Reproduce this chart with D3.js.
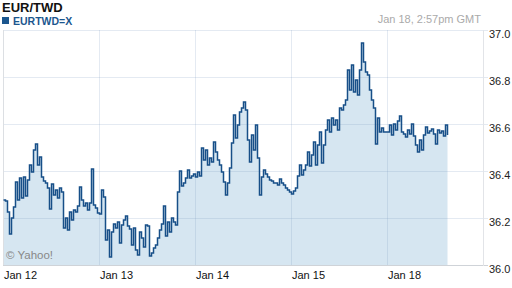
<!DOCTYPE html>
<html><head><meta charset="utf-8">
<script src="https://cdn.jsdelivr.net/npm/d3@7"></script>
<style>
html,body{margin:0;padding:0;background:#fff;}
svg{display:block;font-family:"Liberation Sans",Arial,sans-serif;}
</style></head>
<body>
<svg id="c" width="512" height="288"></svg>
<script>
const title = "EUR/TWD";
const seriesName = "EURTWD=X";
const stamp = "Jan 18, 2:57pm GMT";
const dayLabels = ["Jan 12", "Jan 13", "Jan 14", "Jan 15", "Jan 18"];
const yTicks = [36.0, 36.2, 36.4, 36.6, 36.8, 37.0];
const pointsPerDay = 48; // 30-minute intervals
const values = [
36.277,36.272,36.226,36.132,36.200,36.247,36.353,36.277,36.370,36.285,
36.374,36.294,36.362,36.426,36.396,36.489,36.515,36.426,36.460,36.374,
36.357,36.349,36.328,36.238,36.345,36.298,36.319,36.285,36.328,36.311,
36.157,36.200,36.149,36.226,36.191,36.234,36.226,36.251,36.332,36.277,
36.251,36.264,36.234,36.264,36.409,36.255,36.243,36.221,36.217,36.319,
36.289,36.106,36.149,36.034,36.140,36.174,36.157,36.183,36.094,36.170,
36.191,36.209,36.166,36.153,36.085,36.157,36.064,36.043,36.140,36.115,
36.077,36.170,36.166,36.038,36.051,36.072,36.085,36.115,36.149,36.174,
36.251,36.123,36.183,36.140,36.200,36.183,36.170,36.311,36.400,36.336,
36.349,36.370,36.404,36.370,36.379,36.387,36.374,36.396,36.379,36.498,
36.447,36.489,36.426,36.455,36.438,36.523,36.481,36.447,36.426,36.396,
36.353,36.298,36.349,36.413,36.519,36.638,36.540,36.596,36.651,36.668,
36.694,36.660,36.532,36.438,36.553,36.489,36.596,36.455,36.298,36.374,
36.404,36.387,36.374,36.362,36.357,36.349,36.349,36.340,36.366,36.349,
36.340,36.328,36.319,36.311,36.302,36.315,36.328,36.379,36.426,36.383,
36.404,36.426,36.481,36.421,36.468,36.523,36.426,36.511,36.566,36.434,
36.511,36.574,36.617,36.566,36.626,36.596,36.617,36.574,36.668,36.660,
36.681,36.702,36.830,36.745,36.851,36.736,36.787,36.723,36.830,36.945,
36.864,36.821,36.809,36.745,36.702,36.668,36.515,36.626,36.566,36.583,
36.566,36.566,36.566,36.596,36.553,36.600,36.574,36.613,36.634,36.566,
36.557,36.545,36.574,36.557,36.600,36.549,36.511,36.481,36.532,36.489,
36.553,36.587,36.562,36.570,36.579,36.557,36.515,36.574,36.562,36.570,
36.549,36.596,36.553
];

const svg = d3.select("#c");
const mLeft = 3, mRight = 483, mTop = 30, mBottom = 265;
const x = d3.scaleLinear().domain([0, pointsPerDay * 5]).range([mLeft, mRight]);
const y = d3.scaleLinear().domain([36, 37]).range([mBottom, mTop]);
const data = values.map((v, i) => ({i, v}));
const lineX = d => x(d.i) + 0.5;

// area fill
svg.append("path").datum(data)
  .attr("fill", "#d6e6f1")
  .attr("d", d3.area().curve(d3.curveStepAfter).x(lineX).y0(y(36)).y1(d => y(d.v)));

// horizontal gridlines
const gridColor = "rgba(120,150,190,0.2)";
svg.append("g").selectAll("line").data(yTicks).join("line")
  .attr("x1", mLeft).attr("x2", mRight + 5)
  .attr("y1", d => Math.round(y(d)) + 0.5).attr("y2", d => Math.round(y(d)) + 0.5)
  .attr("stroke", d => d === 36 ? "#cfd3d8" : gridColor).attr("stroke-width", 1);

// vertical gridlines
svg.append("g").selectAll("line").data(dayLabels).join("line")
  .attr("x1", (d, i) => Math.round(x(i * pointsPerDay)) + 0.5)
  .attr("x2", (d, i) => Math.round(x(i * pointsPerDay)) + 0.5)
  .attr("y1", mTop).attr("y2", mBottom)
  .attr("stroke", (d, i) => i === 0 ? "#dcdfe3" : gridColor);

// right axis line
svg.append("line").attr("x1", mRight + 0.5).attr("x2", mRight + 0.5)
  .attr("y1", mTop).attr("y2", mBottom + 1).attr("stroke", "#e2e4e8");

// series line
svg.append("path").datum(data)
  .attr("fill", "none").attr("stroke", "#174f88").attr("stroke-width", 1.5)
  .attr("stroke-linejoin", "miter")
  .attr("d", d3.line().curve(d3.curveStepAfter).x(lineX).y(d => y(d.v)));

// y labels
svg.append("g").selectAll("text").data(yTicks).join("text")
  .attr("x", 489).attr("y", d => Math.round(y(d)) + 8)
  .attr("font-size", 11).attr("fill", "#222")
  .text(d => d.toFixed(1));

// x labels
svg.append("g").selectAll("text").data(dayLabels).join("text")
  .attr("x", (d, i) => Math.round(x(i * pointsPerDay)) + 1)
  .attr("y", 279).attr("font-size", 11).attr("fill", "#111")
  .text(d => d);

// title & legend
svg.append("text").attr("x", 2).attr("y", 12).attr("font-size", 13)
  .attr("font-weight", "bold").attr("fill", "#111").text(title);
svg.append("rect").attr("x", 2).attr("y", 17).attr("width", 7).attr("height", 7).attr("fill", "#1b568e");
svg.append("text").attr("x", 13).attr("y", 24.5).attr("font-size", 10.5)
  .attr("font-weight", "bold").attr("fill", "#1b568e").text(seriesName);
svg.append("text").attr("x", 481).attr("y", 23).attr("text-anchor", "end")
  .attr("font-size", 11).attr("fill", "#aaa").text(stamp);

// watermark
svg.append("text").attr("x", 6).attr("y", 259).attr("font-size", 11.5)
  .attr("fill", "#888").text("\u00A9 Yahoo!");
</script>
</body></html>
